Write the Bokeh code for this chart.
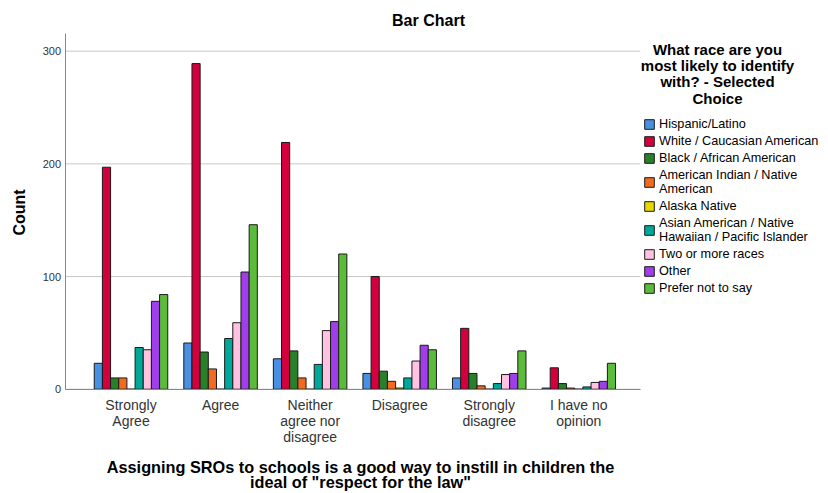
import math
from bokeh.plotting import figure
from bokeh.models import Range1d, FixedTicker, Legend, LegendItem, Label, ColumnDataSource
from bokeh.transform import dodge
from bokeh.embed import file_html
from bokeh.resources import INLINE

categories = ["Strongly\nAgree", "Agree", "Neither\nagree nor\ndisagree", "Disagree",
              "Strongly\ndisagree", "I have no\nopinion"]
races = ["Hispanic/Latino", "White / Caucasian American", "Black / African American",
         "American Indian / Native\nAmerican", "Alaska Native",
         "Asian American / Native\nHawaiian / Pacific Islander", "Two or more races",
         "Other", "Prefer not to say"]
colors = ["#4A90E2", "#D2003C", "#2A7F2A", "#F26A21", "#E6D800", "#00A89A",
          "#FFC2E0", "#A13EEB", "#5DBB3B"]

hispanic = [23, 41, 27, 14, 10, 1]
white = [197, 289, 219, 100, 54, 19]
black = [10, 33, 34, 16, 14, 5]
am_indian = [10, 18, 10, 7, 3, 1]
alaska = [0, 0, 0, 1, 0, 0]
asian = [37, 45, 22, 10, 5, 2]
two_more = [35, 59, 52, 25, 13, 6]
other = [78, 104, 60, 39, 14, 7]
prefer = [84, 146, 120, 35, 34, 23]
series = [hispanic, white, black, am_indian, alaska, asian, two_more, other, prefer]
y_ticks = [0, 100, 200, 300]
chart_title = "Bar Chart"
x_title = 'Assigning SROs to schools is a good way to instill in children the\nideal of "respect for the law"'
y_title = "Count"
legend_title_text = "What race are you\nmost likely to identify\nwith? - Selected\nChoice"

FONT = "Liberation Sans"
W, H = 828, 493
xpos = list(range(len(categories)))
X0, X1 = -0.7258, 5.6869   # extent of the bar area (axis line)
Y1 = 315.7                 # top of the y axis line

p = figure(width=W, height=H, output_backend="svg", toolbar_location=None,
           x_range=Range1d(-1.4571, 7.7881), y_range=Range1d(-92.57, 345.0),
           min_border=0, min_border_left=0, min_border_right=0, min_border_top=0,
           min_border_bottom=0)
p.outline_line_color = None
p.background_fill_color = "white"
p.border_fill_color = "white"

# horizontal grid lines limited to the bar area
p.segment(x0=[X0] * len(y_ticks), x1=[X1] * len(y_ticks), y0=y_ticks, y1=y_ticks,
          line_color="#c8c8c8", line_width=1)

bw = 0.0912
items = []
for i, (name, vals, col) in enumerate(zip(races, series, colors)):
    src = ColumnDataSource(dict(x=xpos, top=vals))
    r = p.vbar(x=dodge("x", (i - 4) * bw, range=p.x_range), top="top", bottom=0, width=bw,
               source=src, fill_color=col, line_color="#1a1a1a", line_width=1)
    items.append(LegendItem(label=name, renderers=[r]))

# axes drawn at fixed positions inside the canvas
p.xaxis.fixed_location = 0
p.xaxis.bounds = (X0, X1)
p.xaxis.ticker = FixedTicker(ticks=xpos)
p.xaxis.major_label_overrides = {i: c for i, c in enumerate(categories)}
p.xaxis.major_tick_line_color = None
p.xaxis.major_tick_out = 0
p.xaxis.major_tick_in = 0
p.xaxis.minor_tick_line_color = None
p.xaxis.axis_line_color = "#888888"
p.xaxis.major_label_text_font = FONT
p.xaxis.major_label_text_font_size = "14px"
p.xaxis.major_label_text_color = "#333333"
p.xaxis.major_label_text_line_height = 1.0
p.xaxis.major_label_standoff = 8

p.yaxis.fixed_location = X0
p.yaxis.bounds = (0, Y1)
p.yaxis.ticker = FixedTicker(ticks=y_ticks)
p.yaxis.major_tick_line_color = None
p.yaxis.major_tick_out = 0
p.yaxis.major_tick_in = 0
p.yaxis.minor_tick_line_color = None
p.yaxis.axis_line_color = "#888888"
p.yaxis.major_label_text_font = FONT
p.yaxis.major_label_text_font_size = "11px"
p.yaxis.major_label_text_color = "#333333"
p.yaxis.major_label_standoff = 5

p.xgrid.grid_line_color = None
p.ygrid.grid_line_color = None

def txt(text, x, y, size, align="center", baseline="middle", angle=0.0, lh=1.0):
    # x, y: pixel position from the top-left of the canvas
    return Label(x=x, y=H - y, x_units="screen", y_units="screen", text=text,
                 angle=angle, text_align=align, text_baseline=baseline, text_font=FONT,
                 text_font_size=size, text_font_style="bold", text_color="#000000",
                 text_line_height=lh)

p.add_layout(txt(chart_title, 428, 20, "16px"))
p.add_layout(txt(y_title, 19, 212, "16px", angle=math.pi / 2))
p.add_layout(txt(x_title, 360, 491, "16.3px", baseline="bottom", lh=0.88))
p.add_layout(txt(legend_title_text, 717, 40, "15px", baseline="top", lh=0.97))

legend = Legend(items=items, location=(643, H - 295), padding=0, margin=0, spacing=3,
                glyph_width=12, glyph_height=12, label_standoff=4,
                label_text_font=FONT, label_text_font_size="12.7px",
                label_text_color="#000000", label_text_line_height=0.88,
                background_fill_alpha=0, border_line_color=None)
p.add_layout(legend, "center")

open("out.html", "w").write(file_html(p, INLINE))
